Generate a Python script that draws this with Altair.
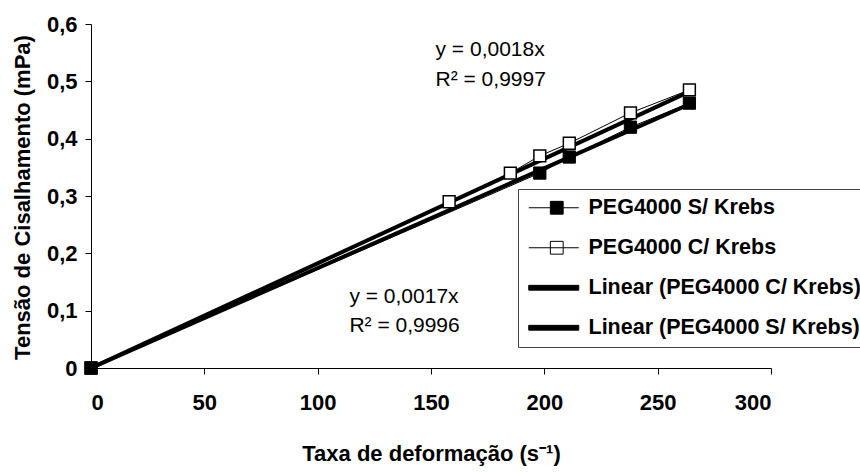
import altair as alt
import pandas as pd

# ---- data ----
x_S = [0, 198, 211, 238, 264]
y_S = [0.0, 0.34, 0.368, 0.42, 0.462]
x_C = [0, 158, 185, 198, 211, 238, 264]
y_C = [0.0, 0.29, 0.34, 0.37, 0.392, 0.445, 0.485]

trend_x = [0, 264]
trend_C = [0.0, 0.482]
trend_S = [0.0, 0.460]

legend_names = ["PEG4000 S/ Krebs", "PEG4000 C/ Krebs",
                "Linear (PEG4000 C/ Krebs)", "Linear (PEG4000 S/ Krebs)"]

ann_text = ["y = 0,0018x", "R² = 0,9997", "y = 0,0017x", "R² = 0,9996"]
ann_x = [152, 152, 114, 114]
ann_y = [0.555, 0.502, 0.123, 0.073]

FONT = "Liberation Sans"

dS = pd.DataFrame({"x": x_S, "y": y_S})
dC = pd.DataFrame({"x": x_C, "y": y_C})
dT = pd.DataFrame({"x": trend_x * 2, "y": trend_C + trend_S,
                   "s": ["C"] * 2 + ["S"] * 2})
dA = pd.DataFrame({"t": ann_text, "x": ann_x, "y": ann_y})
dL = pd.DataFrame({"legenda": legend_names})

xs = alt.Scale(domain=[0, 300], nice=False)
ys = alt.Scale(domain=[0, 0.6], nice=False)

X = alt.X("x:Q", scale=xs, axis=alt.Axis(
    values=[0, 50, 100, 150, 200, 250, 300], title="Taxa de deformação (s⁻¹)",
    titleX=340, titleY=85, titleBaseline="middle", titleAlign="center",
    labelPadding=18, tickSize=6, format="d"))
Y = alt.Y("y:Q", scale=ys, axis=alt.Axis(
    values=[0, 0.1, 0.2, 0.3, 0.4, 0.5, 0.6], title="Tensão de Cisalhamento (mPa)",
    titleX=-69, titleY=173, titleBaseline="middle", titleAlign="center",
    labelPadding=8, tickSize=6,
    labelExpr="datum.value == 0 ? '0' : replace(format(datum.value, '.1f'), '.', ',')"))

base_lines = alt.Chart(dT).mark_line(color="black", strokeWidth=4).encode(
    x=X, y=Y, detail="s:N")
thin_S = alt.Chart(dS).mark_line(color="black", strokeWidth=1).encode(x=X, y=Y)
thin_C = alt.Chart(dC).mark_line(color="black", strokeWidth=1).encode(x=X, y=Y)
pts_C = alt.Chart(dC).mark_point(shape="square", filled=True, fill="white",
                                 stroke="black", strokeWidth=1.5, size=140,
                                 opacity=1).encode(x=X, y=Y)
pts_S = alt.Chart(dS).mark_point(shape="square", filled=True, fill="black",
                                 stroke="black", strokeWidth=1, size=150,
                                 opacity=1).encode(x=X, y=Y)
ann = alt.Chart(dA).mark_text(align="left", baseline="middle", font=FONT,
                              fontSize=21, color="black").encode(
    x=alt.X("x:Q", scale=xs), y=alt.Y("y:Q", scale=ys), text="t:N")

# legend symbols: unit = 8 px (symbolSize 256)
path_S = "M-1,0H1.7M3.3,0H5.25M1.7,-0.8H3.3V0.8H1.7Z"
path_C = "M-1,0H1.7M3.3,0H5.25M1.7,-0.8H3.3V0.8H1.7ZM1.7,0H3.3"
path_L = "M-1,-0.3H5.25V0.3H-1Z"

leg = alt.Legend(orient="none", legendX=427, legendY=165, title=None,
                 labelFont=FONT, labelFontSize=21.5, labelFontWeight="bold",
                 labelColor="black", symbolSize=256, labelOffset=41,
                 symbolStrokeWidth=1, symbolOpacity=1,
                 strokeColor="#444444", padding=8, rowPadding=17,
                 fillColor="white", labelLimit=400)
legend_layer = alt.Chart(dL).transform_filter("false").mark_point(
    filled=True, strokeWidth=1, opacity=1).encode(
    shape=alt.Shape("legenda:N", scale=alt.Scale(domain=legend_names,
                    range=[path_S, path_C, path_L, path_L]), legend=leg),
    fill=alt.Fill("legenda:N", scale=alt.Scale(domain=legend_names,
                  range=["black", "white", "black", "black"]), legend=leg),
    stroke=alt.Stroke("legenda:N", scale=alt.Scale(domain=legend_names,
                      range=["black", "black", "black", "black"]), legend=leg),
)

chart = alt.layer(thin_S, thin_C, base_lines, pts_C, pts_S, ann, legend_layer).properties(
    width=680, height=344,
    autosize=alt.AutoSizeParams(type="none"),
    padding={"left": 91, "top": 24, "right": 89, "bottom": 104},
    background="white",
).configure_view(stroke=None).configure_axis(
    domainColor="black", tickColor="black", grid=False,
    labelFont=FONT, labelFontSize=22, labelFontWeight="bold", labelColor="black",
    titleFont=FONT, titleFontSize=22, titleFontWeight="bold", titleColor="black",
)

chart.save("out.html", embed_options={"renderer": "svg", "actions": False})
